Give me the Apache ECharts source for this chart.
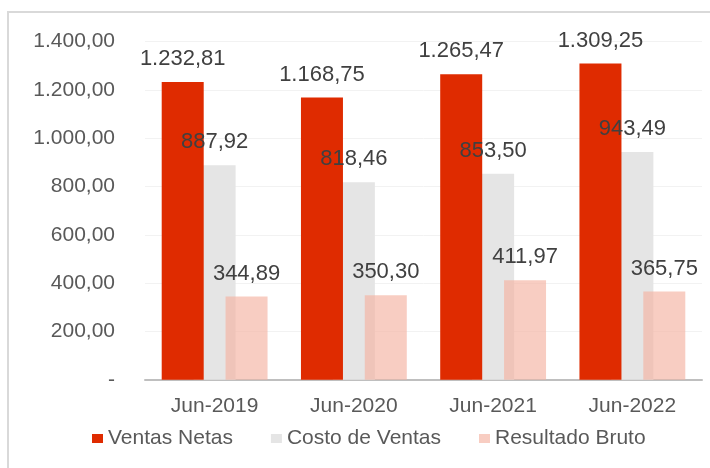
<!DOCTYPE html>
<html><head><meta charset="utf-8">
<script src="https://cdn.jsdelivr.net/npm/echarts@6/dist/echarts.min.js"></script>
<style>html,body{margin:0;padding:0;background:#fff}#c{width:710px;height:468px}</style>
</head><body><div id="c"></div>
<script>
var categories = ['Jun-2019', 'Jun-2020', 'Jun-2021', 'Jun-2022'];
var ventasNetas = [1232.81, 1168.75, 1265.47, 1309.25];
var costoVentas = [887.92, 818.46, 853.50, 943.49];
var resultadoBruto = [344.89, 350.30, 411.97, 365.75];
var seriesNames = ['Ventas Netas', 'Costo de Ventas', 'Resultado Bruto'];

function fmt(v) {
  if (v === 0) return '-';
  var s = v.toFixed(2).split('.');
  var int = s[0].replace(/\B(?=(\d{3})+(?!\d))/g, '.');
  return int + ',' + s[1];
}
var FONT = '"Liberation Sans", Arial, sans-serif';
var colors = ['#DF2B00', '#E5E5E5', 'rgba(244,178,161,0.65)'];
var dataSets = [ventasNetas, costoVentas, resultadoBruto];
var zs = [3, 2, 4];

var series = [];
dataSets.forEach(function (d, i) {
  series.push({
    name: seriesNames[i], type: 'bar', data: d, xAxisIndex: 0,
    barWidth: 42, barGap: '-24%', z: zs[i],
    itemStyle: { color: colors[i] }, label: { show: false }
  });
});
dataSets.forEach(function (d, i) {
  series.push({
    name: 'lbl' + i, type: 'bar', data: d, xAxisIndex: 1,
    barWidth: 42, barGap: '-24%', z: 10, silent: true,
    itemStyle: { color: 'rgba(0,0,0,0)' },
    label: { show: true, position: 'top', distance: 12, color: '#404040',
      fontSize: 22, fontFamily: FONT, formatter: function (p) { return fmt(p.value); } }
  });
});

var chart = echarts.init(document.getElementById('c'), null, { renderer: 'canvas' });
chart.setOption({
  animation: false,
  backgroundColor: '#fff',
  graphic: [{ type: 'rect', shape: { x: 8, y: 12, width: 720, height: 480 },
    style: { fill: 'none', stroke: '#D9D9D9', lineWidth: 2 }, z: 0 }],
  grid: { left: 145, right: 8, top: 41.7, bottom: 88.2 },
  legend: {
    data: seriesNames, left: 92, top: 428, padding: 0, icon: 'rect', itemWidth: 11, itemHeight: 9,
    itemGap: 38, textStyle: { color: '#595959', fontSize: 21, fontFamily: FONT }
  },
  xAxis: [{
    type: 'category', data: categories,
    axisLine: { lineStyle: { color: '#BFBFBF', width: 2 } }, axisTick: { show: false },
    axisLabel: { color: '#595959', fontSize: 21, fontFamily: FONT, margin: 16 }
  }, {
    type: 'category', data: categories, show: false
  }],
  yAxis: {
    type: 'value', min: 0, max: 1400, interval: 200,
    axisLine: { show: false }, axisTick: { show: false },
    splitLine: { lineStyle: { color: '#F2F2F2', width: 1 } },
    axisLabel: { color: '#595959', fontSize: 21, fontFamily: FONT, margin: 30, formatter: fmt }
  },
  series: series
});
</script></body></html>
